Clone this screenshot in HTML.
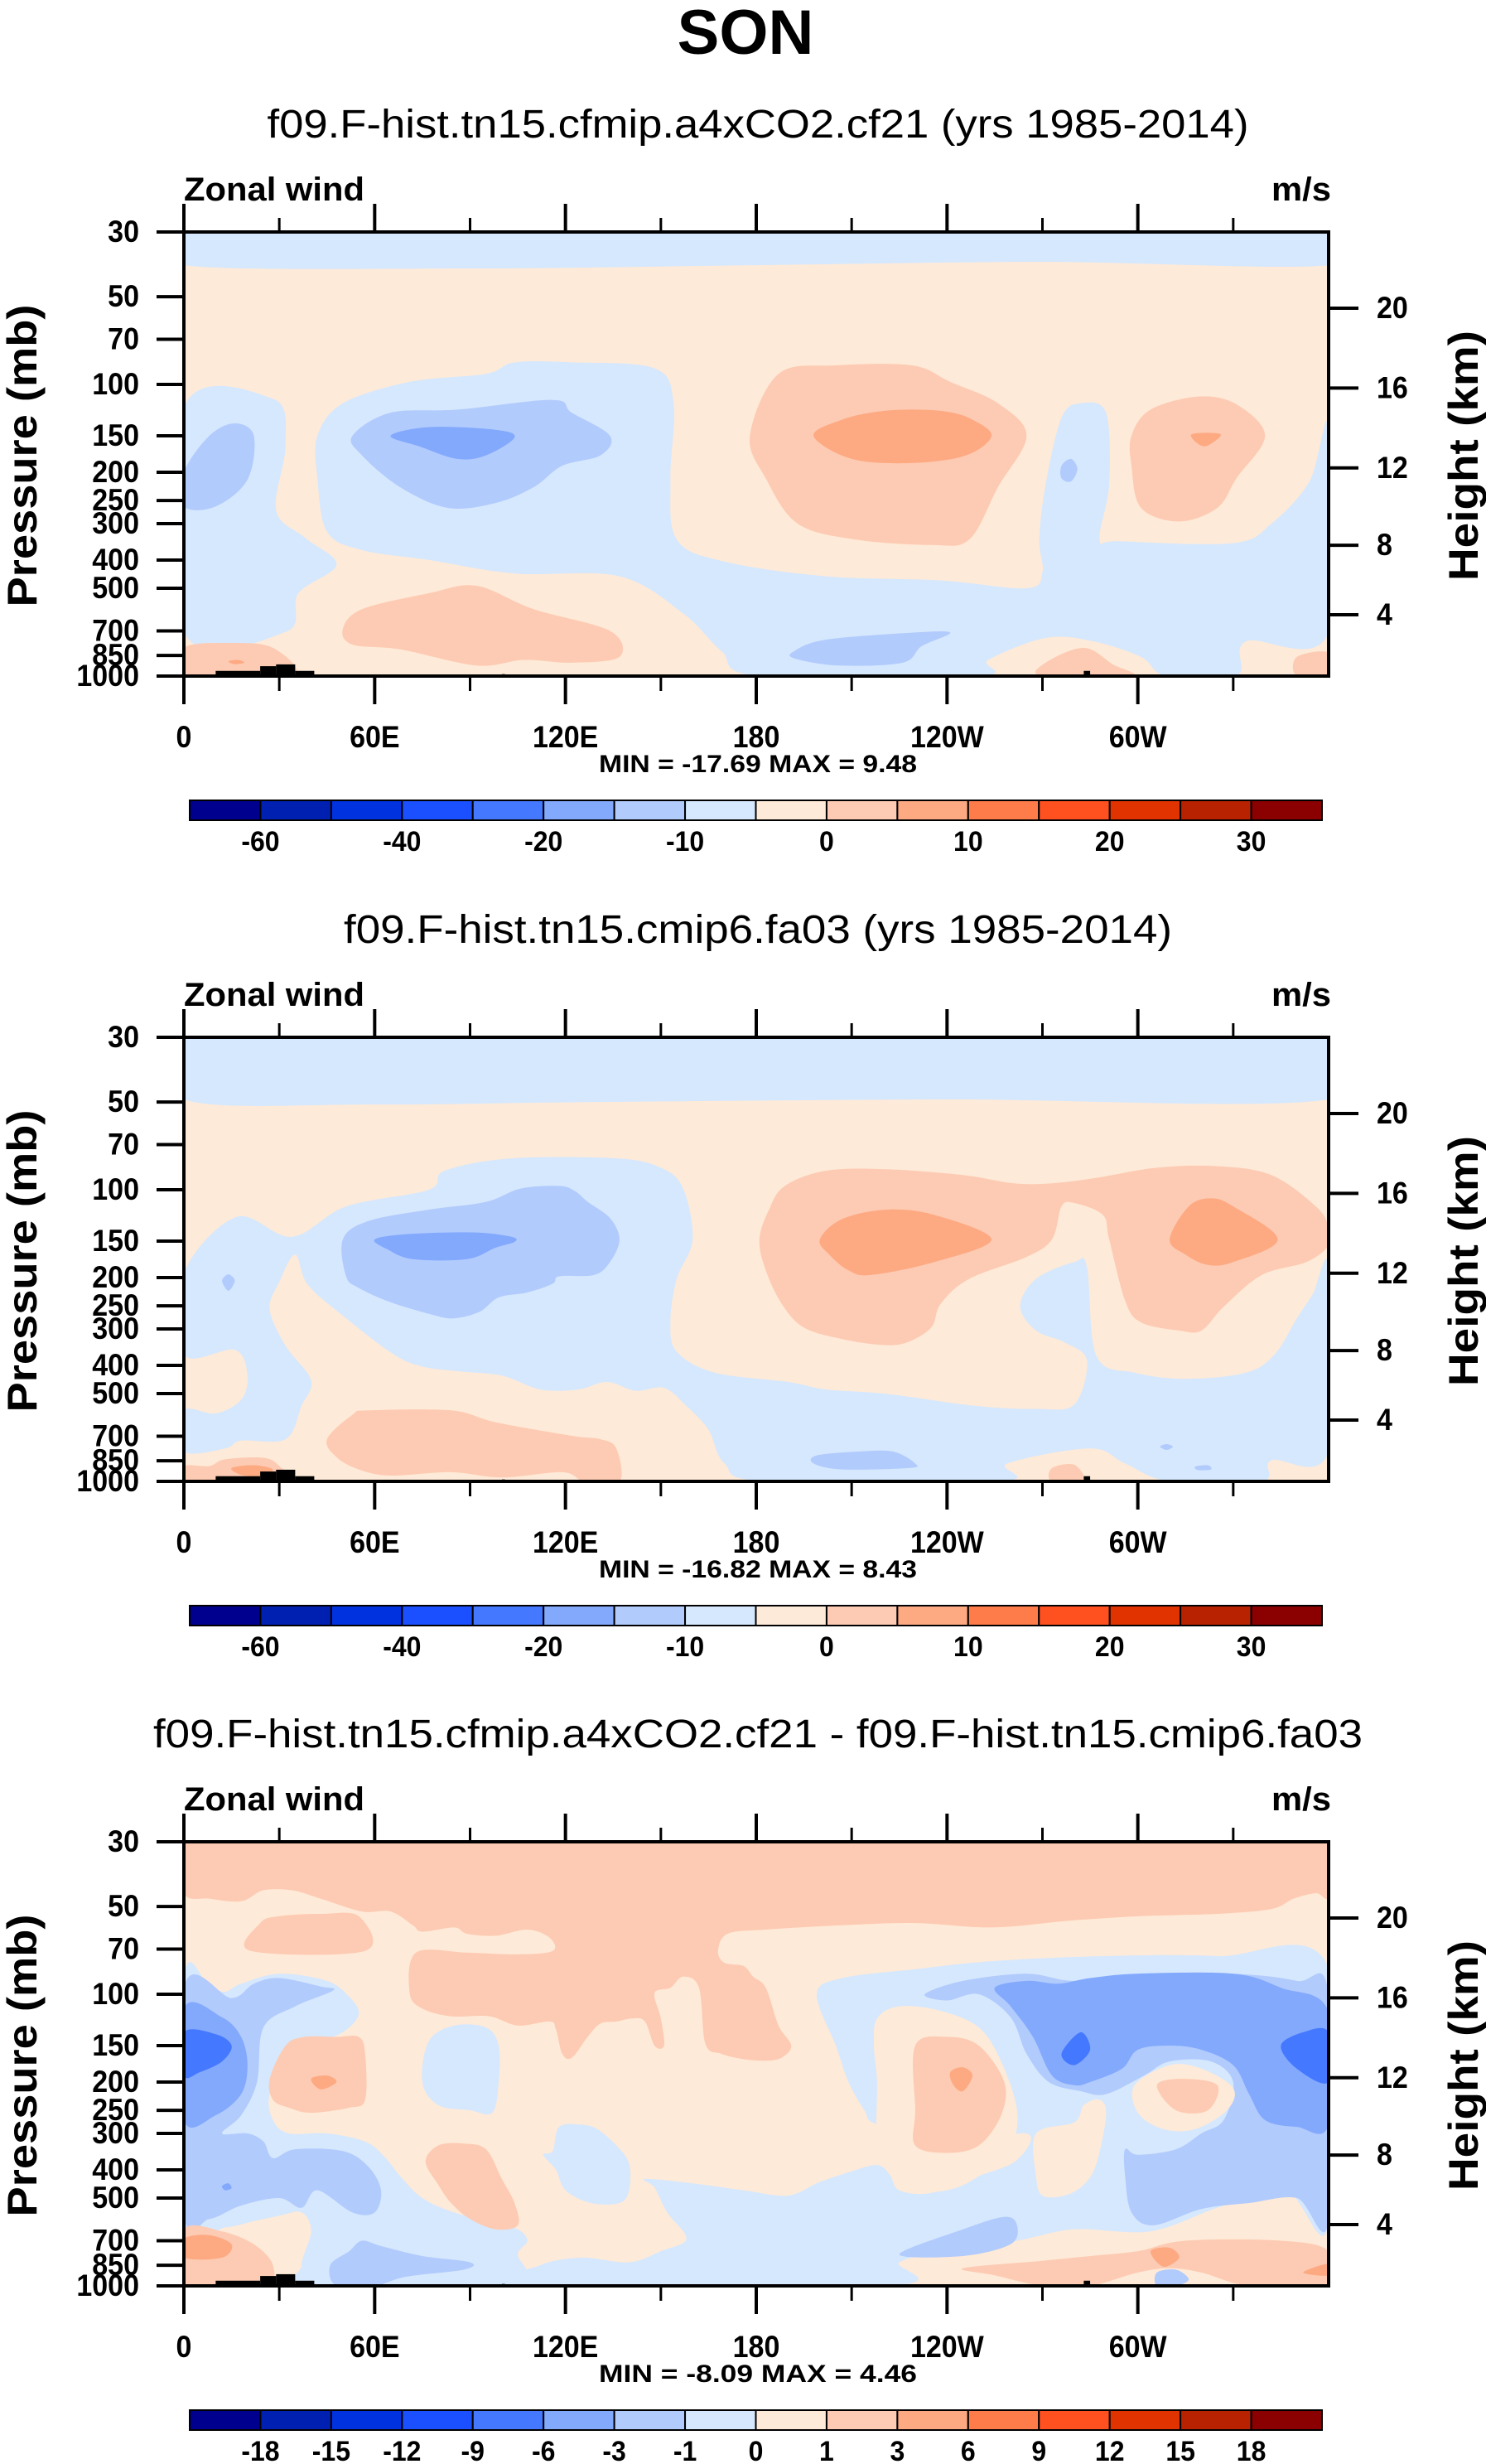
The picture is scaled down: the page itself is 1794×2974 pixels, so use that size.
<!DOCTYPE html>
<html><head><meta charset="utf-8">
<style>
html,body{margin:0;padding:0;background:#fff;}
svg{display:block;}
text{font-family:"Liberation Sans",Arial,sans-serif;fill:#000;}
</style></head>
<body>
<svg id="root" xmlns="http://www.w3.org/2000/svg" width="1794" height="2974" viewBox="0 0 1794 2974">
<rect x="0" y="0" width="1794" height="2974" fill="#fff"/>
<text x="900" y="65" font-size="76" font-weight="bold" text-anchor="middle">SON</text>
</svg>
<script>
// ===== data =====
const colors = ['#00008f','#0020b2','#0032e0','#1a50ff','#4478ff','#83a9fd','#b2cbfd','#d6e8fd','#feead8','#fdcbb3','#fdaa83','#fe7c4a','#ff5020','#e03300','#b82200','#8b0000'];
const pressureTicks = [30,50,70,100,150,200,250,300,400,500,700,850,1000];
const heightTicks = [4,8,12,16,20];
const lonTicks = [0,60,120,180,240,300];
const lonMinorTicks = [30,90,150,210,270,330];
const lonLabels = ['0','60E','120E','180','120W','60W'];
const cbLevelsAbs = ['-60','-50','-40','-30','-20','-15','-10','-5','0','5','10','15','20','25','30'];
const cbShowAbs = [1,0,1,0,1,0,1,0,1,0,1,0,1,0,1];
const cbLevelsDiff = ['-18','-15','-12','-9','-6','-3','-1','0','1','3','6','9','12','15','18'];
const cbShowDiff = [1,1,1,1,1,1,1,1,1,1,1,1,1,1,1];
const titles = ['f09.F-hist.tn15.cfmip.a4xCO2.cf21 (yrs 1985-2014)','f09.F-hist.tn15.cmip6.fa03 (yrs 1985-2014)','f09.F-hist.tn15.cfmip.a4xCO2.cf21 - f09.F-hist.tn15.cmip6.fa03'];
const titleWidths = [1185,1000,1460];
const minMax = ['MIN = -17.69  MAX =   9.48','MIN = -16.82  MAX =   8.43','MIN =  -8.09  MAX =  4.46'];
const terrain = [[10,24,960],[24,29,925],[29,35,912],[35,41,960],[100,101,985],[283,285,960],[285,305,990]];

// contour regions: [colorIndex, [[lon, pressure], ...]]
const panel1Bg = 8;
const panel1Regions = [
 [7,[[0,30],[360,30],[360,39],[270,38],[180,39],[90,40],[0,39]]],
 [7,[[0,120],[28,112],[32,160],[29,270],[38,335],[48,415],[36,520],[32,706],[0,706]]],
 [7,[[42,150],[50,116],[71,98],[95,92],[104,84],[122,84],[148,88],[154,116],[153,212],[155,340],[170,405],[202,455],[238,470],[265,500],[270,440],[269,340],[271,220],[276,130],[282,116],[290,125],[291,220],[288,340],[294,345],[330,350],[342,300],[354,215],[360,140],[360,710],[334,760],[331,1000],[309,1000],[301,860],[286,760],[271,740],[253,880],[250,1000],[181,1000],[169,820],[157,610],[137,455],[104,445],[77,400],[56,370],[45,320],[42,210]]],
 [6,[[0,200],[8,150],[16,136],[22,150],[20,212],[10,262],[0,262]]],
 [6,[[53,150],[65,125],[86,122],[116,113],[122,125],[134,150],[131,175],[119,190],[110,225],[98,255],[83,265],[68,225],[56,175]]],
 [5,[[65,150],[77,140],[98,143],[104,152],[95,175],[86,180],[74,163]]],
 [6,[[276,190],[279,180],[281,195],[279,215],[276,210]]],
 [6,[[192,820],[202,750],[229,710],[241,710],[232,790],[226,900],[206,920],[192,870]]],
 [9,[[178,150],[187,92],[205,86],[229,86],[241,98],[256,116],[265,150],[256,225],[247,340],[235,355],[211,340],[193,300],[183,210]]],
 [10,[[198,150],[207,132],[218,124],[229,122],[240,124],[248,132],[254,150],[246,175],[229,186],[210,180]]],
 [9,[[298,150],[304,122],[319,110],[331,117],[340,150],[331,210],[325,265],[313,295],[301,265],[298,190]]],
 [10,[[317,148],[326,148],[322,162],[319,160]]],
 [9,[[50,690],[56,590],[77,520],[92,490],[110,590],[134,700],[137,860],[122,900],[107,880],[92,920],[68,810],[53,780]]],
 [9,[[0,800],[14,770],[28,800],[34,1000],[0,1000]]],
 [9,[[271,900],[283,800],[292,910],[298,1000],[270,1000]]],
 [9,[[350,860],[360,830],[360,1000],[350,1000]]],
 [10,[[14,890],[17,880],[19,900],[16,910]]]
];
const panel2Bg = 8;
const panel2Regions = [
 [7,[[0,30],[360,30],[360,49],[240,49],[130,50],[60,51],[0,49]]],
 [7,[[0,193],[16.5,124],[34,145],[51,114],[77,100],[82,86],[103,78],[136,78],[150,84],[157,99],[160,148],[155,202],[153,283],[155,359],[167,424],[190,456],[202,484],[221,501],[249,551],[268,564],[280,545],[284,385],[277,334],[268,304],[263,251],[268,202],[280,177],[284,184],[287,372],[299,424],[315,445],[334,424],[343,367],[350,276],[355,228],[360,184],[360,788],[342,847],[339,1000],[310,1000],[296,868],[285,771],[259,868],[257,1000],[183,1000],[170,868],[165,666],[158,551],[151,478],[142,489],[133,456],[124,484],[112,484],[100,434],[86,419],[75,404],[66,367],[51,276],[39,212],[35,167],[30,207],[27,257],[32,343],[40,450],[37,551],[32,717],[18,725],[13,771],[0,788],[0,571],[10,585],[18,525],[20,434],[16,354],[0,367]]],
 [6,[[50,148],[58,128],[77,117],[95,110],[106,99],[118,97],[123,101],[127,110],[134,125],[137,148],[134,177],[129,196],[118,198],[116,210],[108,225],[99,234],[93,262],[85,276],[78,268],[65,243],[55,217],[51,198]]],
 [5,[[60,148],[70,142],[91,140],[103,145],[104,151],[98,158],[89,173],[72,173],[64,160]]],
 [6,[[12,205],[14,195],[16,205],[14,222]]],
 [6,[[307,760],[309,745],[311,760],[309,780]]],
 [6,[[318,890],[322,880],[323,910],[319,915]]],
 [6,[[199,815],[212,790],[223,790],[230,868],[228,900],[207,910],[198,868]]],
 [9,[[181,148],[184,117],[189,97],[202,86],[221,85],[245,89],[261,95],[273,95],[287,91],[306,84],[325,83],[342,89],[356,114],[360,134],[360,155],[353,177],[339,196],[327,252],[320,304],[313,304],[301,285],[296,240],[291,148],[289,122],[280,111],[276,114],[273,148],[265,170],[247,202],[238,246],[235,297],[227,335],[219,340],[207,325],[195,297],[188,246],[183,189]]],
 [10,[[200,148],[207,126],[221,117],[236,122],[254,148],[236,177],[216,196],[209,189],[203,167]]],
 [10,[[310,148],[316,114],[323,107],[330,114],[344,148],[330,177],[322,181],[315,167]]],
 [9,[[45,717],[53,591],[58,571],[84,571],[98,627],[122,698],[131,717],[136,771],[137,1000],[126,1000],[119,930],[100,970],[84,930],[65,955],[55,910],[48,826]]],
 [9,[[0,886],[8,886],[13,840],[25,830],[30,886],[32,1000],[0,1000]]],
 [10,[[15,900],[22,880],[28,910],[24,960],[18,950]]],
 [9,[[273,1000],[273,900],[280,877],[283,1000]]]
];
const panel3Bg = 8;
const panel3Regions = [
 [9,[[0,30],[360,30],[360,46],[356,45],[349,47],[342,51],[325,53],[301,54],[278,56],[254,59],[230,57],[207,58],[183,60],[171,62],[168,71],[170,78],[176,80],[179,87],[183,95],[187,128],[191,150],[188,165],[183,169],[176,167],[169,160],[164,148],[162,95],[157,87],[153,95],[148,99],[150,121],[151,150],[148,150],[145,124],[141,121],[136,124],[131,126],[127,140],[122,165],[119,160],[117,132],[115,124],[105,128],[96,119],[84,119],[75,112],[71,99],[73,72],[89,72],[105,73],[116,71],[115,64],[108,60],[98,63],[89,62],[85,59],[75,61],[72,58],[65,52],[56,52],[43,47],[34,44],[25,44],[18,48],[8,47],[0,45]]],
 [9,[[21,71],[24,57],[30,54],[43,53],[55,54],[57,71]]],
 [7,[[199,100],[207,88],[230,82],[254,77],[289,74],[325,74],[360,81],[360,620],[346,465],[325,540],[304,650],[280,640],[262,700],[240,760],[225,830],[222,1000],[105,1000],[112,850],[125,800],[140,830],[150,760],[158,690],[152,560],[148,460],[145,430],[160,445],[176,470],[190,490],[200,440],[210,405],[218,385],[222,415],[225,470],[235,480],[250,420],[262,370],[265,300],[240,330],[218,280],[214,250],[209,200],[205,150]]],
 [7,[[0,88],[8,94],[13,98],[18,92],[30,85],[45,90],[52,102],[55,117],[50,135],[40,150],[33,170],[27,220],[28,270],[33,300],[45,300],[57,320],[63,360],[68,420],[75,500],[85,560],[97,605],[105,640],[108,700],[105,780],[108,900],[105,1000],[40,1000],[37,850],[40,650],[37,560],[30,575],[22,600],[13,630],[0,620]]],
 [7,[[77,145],[85,128],[95,130],[99,150],[99,200],[97,255],[90,250],[80,240],[75,200]]],
 [7,[[116,345],[118,285],[125,280],[130,290],[136,330],[140,380],[140,470],[137,520],[128,520],[120,470],[117,400],[113,355]]],
 [6,[[0,95],[15,103],[22,92],[30,88],[43,94],[47,97],[35,110],[25,130],[23,200],[18,260],[12,300],[20,300],[25,320],[28,365],[35,340],[50,345],[58,390],[62,470],[60,560],[53,560],[42,470],[37,540],[30,500],[18,530],[8,590],[0,560]]],
 [5,[[0,112],[12,120],[18,140],[20,175],[18,220],[10,260],[0,270]]],
 [4,[[0,135],[10,137],[15,150],[12,170],[5,185],[0,190]]],
 [5,[[12,455],[14,445],[15,462],[13,470]]],
 [6,[[233,100],[245,90],[265,85],[280,90],[300,85],[330,85],[350,90],[360,100],[360,600],[350,500],[335,520],[320,545],[305,620],[298,560],[296,420],[296,340],[300,355],[312,340],[320,300],[327,270],[330,200],[323,170],[310,170],[302,190],[290,220],[282,215],[272,200],[265,160],[260,120],[250,100],[240,105]]],
 [5,[[255,95],[265,90],[275,92],[285,88],[300,85],[330,85],[345,95],[360,115],[360,280],[350,285],[340,270],[335,220],[330,175],[320,155],[310,150],[300,155],[295,180],[285,200],[280,205],[273,190],[267,140],[260,110]]],
 [4,[[276,160],[282,135],[285,155],[280,175]]],
 [4,[[345,150],[352,135],[360,135],[360,200],[350,180]]],
 [8,[[218,121],[225,110],[238,114],[250,130],[257,170],[262,250],[260,330],[250,420],[240,470],[228,470],[222,415],[218,330],[218,200],[217,150]]],
 [9,[[230,150],[240,140],[250,150],[258,200],[257,260],[250,330],[240,350],[230,330],[230,250]]],
 [10,[[241,185],[245,178],[248,190],[245,215],[242,205]]],
 [8,[[268,300],[280,275],[283,240],[288,230],[290,260],[287,380],[283,450],[277,490],[270,490],[268,420]]],
 [8,[[299,205],[310,175],[320,180],[330,210],[328,250],[318,290],[308,290],[300,255]]],
 [9,[[306,205],[314,195],[325,205],[322,250],[312,250]]],
 [9,[[27,195],[32,150],[38,140],[48,140],[55,140],[57,160],[57,230],[52,245],[40,255],[33,245],[28,230]]],
 [10,[[40,195],[45,190],[48,200],[43,212]]],
 [9,[[76,375],[80,330],[88,325],[95,340],[100,430],[104,520],[105,620],[98,640],[90,590],[84,520],[80,450]]],
 [9,[[0,640],[12,650],[22,720],[28,850],[25,1000],[0,1000]]],
 [10,[[0,690],[8,670],[15,720],[12,800],[0,800]]],
 [9,[[245,870],[270,820],[285,790],[300,760],[315,700],[345,700],[360,760],[360,1000],[335,1000],[320,900],[310,870],[300,900],[285,1000],[270,1000],[255,920]]],
 [10,[[304,760],[310,740],[313,800],[308,860]]],
 [10,[[352,900],[360,840],[360,920]]],
 [6,[[306,900],[312,880],[316,950],[312,1000],[306,1000]]],
 [6,[[225,780],[245,640],[258,580],[262,620],[260,720],[245,790]]],
 [6,[[46,850],[52,760],[56,700],[62,730],[75,790],[90,830],[88,880],[70,930],[60,1000],[48,1000]]]
];
const panels = [
 {bg:panel1Bg, regions:panel1Regions, cb:cbLevelsAbs, show:cbShowAbs},
 {bg:panel2Bg, regions:panel2Regions, cb:cbLevelsAbs, show:cbShowAbs},
 {bg:panel3Bg, regions:panel3Regions, cb:cbLevelsDiff, show:cbShowDiff}
];

// ===== layout =====
const NS='http://www.w3.org/2000/svg';
const root=document.getElementById('root');
const X0=222, X1=1604, PH=536;
const tops=[280,1252,2223];
function xOf(lon){return X0+lon/360*(X1-X0);}
function yOf(p,T){return T+Math.log(p/30)/Math.log(1000/30)*PH;}
function pOfZ(z){const m=z*1000; if(m<=11000) return 1013.25*Math.pow(1-2.25577e-5*m,5.25588); return 226.32*Math.exp(-(m-11000)/6341.6);}
function mk(tag,attrs,parent){const e=document.createElementNS(NS,tag);for(const k in attrs)e.setAttribute(k,attrs[k]);(parent||root).appendChild(e);return e;}
function txt(s,x,y,fs,anchor,parent,extra){
 const e=mk('text',Object.assign({x:0,y:0,'font-size':fs,'font-weight':'bold','text-anchor':anchor||'middle',transform:'translate('+x+','+y+') scale(1,1.08)'},extra||{}),parent);
 e.textContent=s;return e;}
function smoothPath(pts){
 const n=pts.length;let d='M'+pts[0][0].toFixed(1)+','+pts[0][1].toFixed(1);
 for(let i=0;i<n;i++){
  const p0=pts[(i-1+n)%n],p1=pts[i],p2=pts[(i+1)%n],p3=pts[(i+2)%n];
  const c1x=p1[0]+(p2[0]-p0[0])/6,c1y=p1[1]+(p2[1]-p0[1])/6;
  const c2x=p2[0]-(p3[0]-p1[0])/6,c2y=p2[1]-(p3[1]-p1[1])/6;
  d+='C'+c1x.toFixed(1)+','+c1y.toFixed(1)+' '+c2x.toFixed(1)+','+c2y.toFixed(1)+' '+p2[0].toFixed(1)+','+p2[1].toFixed(1);
 }
 return d+'Z';}

panels.forEach((pn,pi)=>{
 const T=tops[pi], B=T+PH;
 const g=mk('g',{});
 
 
 const st=mk('text',{x:915,y:T-114,'font-size':48,'text-anchor':'middle',textLength:titleWidths[pi],lengthAdjust:'spacingAndGlyphs'},g);
 st.textContent=titles[pi];
 
 
 const zw=mk('text',{x:222,y:T-38,'font-size':40,'font-weight':'bold','text-anchor':'start',textLength:218,lengthAdjust:'spacingAndGlyphs'},g);
 zw.textContent='Zonal wind';
 
 
 const ms=mk('text',{x:1535,y:T-38,'font-size':40,'font-weight':'bold','text-anchor':'start',textLength:72,lengthAdjust:'spacingAndGlyphs'},g);
 ms.textContent='m/s';
 
 
 const cp=mk('clipPath',{id:'clip'+pi},g);
 mk('rect',{x:X0,y:T,width:X1-X0,height:PH},cp);
 const plot=mk('g',{'clip-path':'url(#clip'+pi+')'},g);
 
 
 mk('rect',{x:X0,y:T,width:X1-X0,height:PH,fill:colors[pn.bg]},plot);
 pn.regions.forEach(r=>{
  const pts=r[1].map(q=>[xOf(q[0]),yOf(q[1],T)]);
  const path=mk('path',{d:smoothPath(pts),fill:colors[r[0]]},plot);
  
  
 });
 terrain.forEach(t=>{
  const tr=mk('rect',{x:xOf(t[0]),y:yOf(t[2],T),width:xOf(t[1])-xOf(t[0]),height:B-yOf(t[2],T),fill:'#000'},plot);
  
  
 });
 const fr=mk('rect',{x:X0,y:T,width:X1-X0,height:PH,fill:'none',stroke:'#000','stroke-width':4},g);
 
 
 lonTicks.forEach((l,i)=>{
  const x=xOf(l);
  mk('line',{x1:x,y1:T,x2:x,y2:T-34,stroke:'#000','stroke-width':4},g);
  mk('line',{x1:x,y1:B,x2:x,y2:B+34,stroke:'#000','stroke-width':4},g);
  const lb=txt(lonLabels[i],x,T+622,34,'middle',g);
  
  
 });
 lonMinorTicks.forEach(l=>{
  const x=xOf(l);
  mk('line',{x1:x,y1:T,x2:x,y2:T-17,stroke:'#000','stroke-width':3},g);
  mk('line',{x1:x,y1:B,x2:x,y2:B+18,stroke:'#000','stroke-width':3},g);
 });
 pressureTicks.forEach(p=>{
  const y=yOf(p,T);
  mk('line',{x1:X0,y1:y,x2:X0-33,y2:y,stroke:'#000','stroke-width':4},g);
  const lb=txt(String(p),168,y+12,34,'end',g);
  
  
 });
 heightTicks.forEach(z=>{
  const y=yOf(pOfZ(z),T);
  mk('line',{x1:X1,y1:y,x2:X1+36,y2:y,stroke:'#000','stroke-width':4},g);
  const lb=txt(String(z),1662,y+12,34,'start',g);
  
  
 });
 const yt=mk('text',{x:0,y:0,'font-size':50,'font-weight':'bold','text-anchor':'middle',textLength:365,lengthAdjust:'spacingAndGlyphs',transform:'translate(44,'+(T+270)+') rotate(-90)'},g);
 yt.textContent='Pressure (mb)';
 
 
 const yt2=mk('text',{x:0,y:0,'font-size':50,'font-weight':'bold','text-anchor':'middle',textLength:302,lengthAdjust:'spacingAndGlyphs',transform:'translate(1784,'+(T+270)+') rotate(-90)'},g);
 yt2.textContent='Height (km)';
 
 
 const mm=mk('text',{x:915,y:T+652,'font-size':30,'font-weight':'bold','text-anchor':'middle',textLength:384,lengthAdjust:'spacingAndGlyphs'},g);
 mm.textContent=minMax[pi];
 
 
 const cbX0=229,cbX1=1596,cbY=T+686,cbH=24,bw=(cbX1-cbX0)/16;
 const cbg=mk('g',{},g);
 
 
 colors.forEach((c,i)=>{
  const b=mk('rect',{x:cbX0+i*bw,y:cbY,width:bw,height:cbH,fill:c,stroke:'#000','stroke-width':2},cbg);
  
  
 });
 pn.cb.forEach((s,i)=>{
  if(!pn.show[i])return;
  const lb=txt(s,cbX0+(i+1)*bw,T+747,32,'middle',cbg);
  
  
 });
});
</script>
</body></html>
